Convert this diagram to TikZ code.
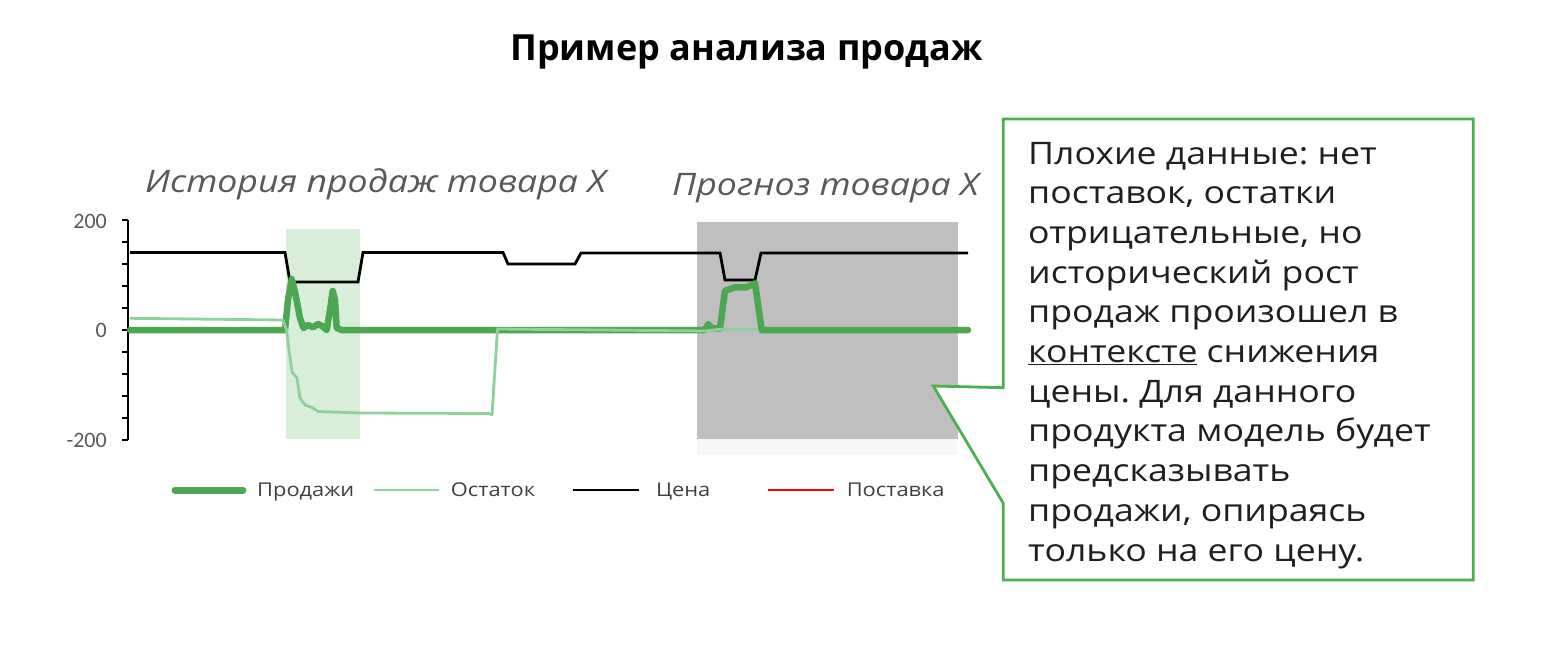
\documentclass[tikz,border=0pt]{standalone}
\usepackage{fontspec}
\setmainfont{Open Sans}[FakeStretch=1.15]
\newfontfamily\titlefont{Open Sans}
\newfontfamily\axisfont{Carlito}
\frenchspacing
\definecolor{salesgreen}{HTML}{4CA750}
\definecolor{stockgreen}{HTML}{8FD19B}
\definecolor{shadegreen}{HTML}{D9EED9}
\definecolor{forecastgray}{HTML}{BFBFBF}
\definecolor{stripgray}{HTML}{F7F7F7}
\definecolor{calloutgreen}{HTML}{4CAF50}
\definecolor{labelgray}{HTML}{595959}
\definecolor{legendgray}{HTML}{404040}
\definecolor{deliveryred}{HTML}{FF0000}
\tikzset{
  salesline/.style={salesgreen, line width=6.5pt, line join=round, line cap=round},
  stockline/.style={stockgreen, line width=2.8pt, line join=round},
  priceline/.style={black, line width=2.8pt, line join=miter},
  axisline/.style={black, line width=2.8pt},
  ticktext/.style={labelgray, font=\axisfont\fontsize{22}{22}\selectfont, anchor=east, inner sep=0pt},
  legendtext/.style={legendgray, font=\fontsize{19}{19}\selectfont, anchor=base west, inner sep=0pt},
  charttitle/.style={labelgray, font=\itshape\fontsize{31}{31}\selectfont, anchor=base west, inner sep=0pt},
}
\begin{document}
\begin{tikzpicture}[x=1pt, y=-1pt]
\useasboundingbox[fill=white] (0,0) rectangle (1550,645);

% title
\node[font=\titlefont\bfseries\fontsize{36}{36}\selectfont, anchor=base, inner sep=0pt] (title) at (746.5,60) {Пример анализа продаж};

% chart titles
\node[charttitle] (histtitle) at (145,192) {История продаж товара X};
\node[charttitle] (forecasttitle) at (672,195) {Прогноз товара X};

% shaded regions
\fill[shadegreen] (285.7,229) rectangle (360,439);
\fill[stripgray] (697,439) rectangle (958,455);
\fill[forecastgray] (697,222) rectangle (958,439);

% axis
\draw[axisline] (128,220) -- (128,440);
\foreach \yy in {220,242,264,286,308,330,352,374,396,418,440}
  \draw[axisline] (122,\yy) -- (128,\yy);
\node[ticktext] (l200) at (107,221) {200};
\node[ticktext] (l0) at (107,330) {0};
\node[ticktext] (lm200) at (107,440) {-200};

% price
\draw[priceline] (130,252.5) -- (285,252.5) -- (290,282) -- (358,282) -- (363,252.5)
  -- (503,252.5) -- (508,264) -- (575,264) -- (581,253) -- (720,253) -- (725,280)
  -- (755,280) -- (761,253) -- (968,253);

% sales
\draw[salesline] (130,330) -- (285,330) -- (288,300) -- (291.7,279) -- (295,292) -- (300,318)
  -- (303.5,328) -- (308,325) -- (313,327.3) -- (318,324) -- (322,326) -- (326.7,330)
  -- (330,310) -- (332.7,291) -- (335,300) -- (336.7,328) -- (341.7,330)
  -- (705,330) -- (708.3,324) -- (711.7,328.3) -- (720,328.3) -- (725,290.7)
  -- (735,287.3) -- (746.7,287.3) -- (755,283.3) -- (761.7,330) -- (968,330);

% stock
\draw[stockline] (130,318.3) -- (283,320) -- (286.5,330) -- (289,350) -- (292,372)
  -- (297,378) -- (300,398) -- (305,405) -- (313,408) -- (318,411.5) -- (360,413)
  -- (489,413.5) -- (492,415) -- (497.5,329) -- (706,331) -- (720,329.3) -- (757,329.3);

% legend
\draw[salesline, line width=7pt] (175,490) -- (243,490);
\node[legendtext] (lgsales) at (257,496.5) {Продажи};
\draw[stockline] (373.5,490) -- (439,490);
\node[legendtext] (lgstock) at (450.7,496.5) {Остаток};
\draw[priceline] (573,490) -- (639,490);
\node[legendtext] (lgprice) at (655.8,496.5) {Цена};
\draw[deliveryred, line width=2.8pt] (767.7,490) -- (833.5,490);
\node[legendtext] (lgdelivery) at (846.6,496.5) {Поставка};

% callout
\draw[calloutgreen, line width=2.8pt, fill=white, line join=miter]
  (1003.3,119) -- (1473.3,119) -- (1473.3,580) -- (1003.3,580) -- (1003.3,503.3)
  -- (933.3,386) -- (1003.3,387.7) -- cycle;
\node[anchor=north west, inner sep=0pt, align=left, font=\fontsize{31}{39.7}\selectfont, text=black!88] (callout) at (1028,141.7)
{Плохие данные: нет\\
поставок, остатки\\
отрицательные, но\\
исторический рост\\
продаж произошел в\\
\underline{контексте} снижения\\
цены. Для данного\\
продукта модель будет\\
предсказывать\\
продажи, опираясь\\
только на его цену.};
\end{tikzpicture}
\end{document}
